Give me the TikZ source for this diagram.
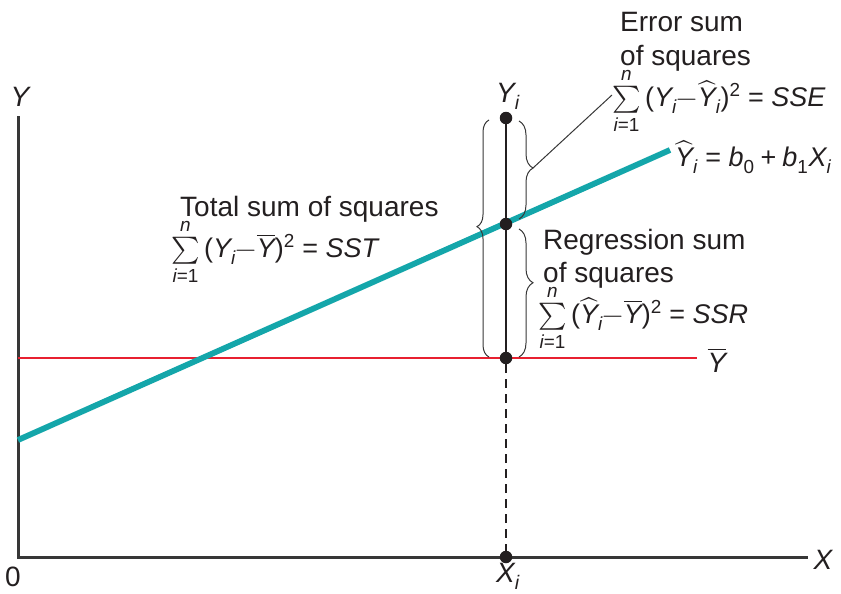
\documentclass[tikz,border=0pt]{standalone}
\usepackage{fontspec}
\usepackage{unicode-math}
\setmainfont{Liberation Sans}
\setmathfont{Latin Modern Math}
\setmathfont[range=it->up]{Liberation Sans Italic}
\setmathfont[range=up/num]{Liberation Sans}
\setmathfont[range={"0028,"0029,"002B,"003D,"2212}]{Liberation Sans}
\usetikzlibrary{decorations.pathreplacing}
\definecolor{tealline}{RGB}{20,166,170}
\definecolor{redline}{RGB}{232,32,48}
\definecolor{axisgray}{RGB}{55,55,55}
\definecolor{txt}{RGB}{35,31,32}
\begin{document}
\begin{tikzpicture}[x=1pt,y=-1pt,
  lbl/.style={font=\fontsize{28}{32}\selectfont, inner sep=0pt, text=txt},
  mlbl/.style={font=\fontsize{27}{32}\selectfont, inner sep=0pt, text=txt},
  axis/.style={line width=3pt, draw=axisgray},
  dot/.style={circle, fill=txt, inner sep=0pt, minimum size=12.5pt},
  vline/.style={line width=2.8pt, draw=txt},
  bracestyle/.style={draw=axisgray, line width=1pt, decorate},
  leader/.style={draw=axisgray, line width=1pt}]
\useasboundingbox (0,0) rectangle (841,594);
% axes
\coordinate (ytop) at (18,116);
\coordinate (O) at (18,557);
\coordinate (xend) at (808,557);
\draw[axis] (ytop) -- (O) -- (xend);
% mean line
\coordinate (m0) at (18,358);
\coordinate (m1) at (697,358);
\draw[redline, line width=1.8pt] (m0) -- (m1);
% regression line
\coordinate (r0) at (18,440);
\coordinate (r1) at (670,150);
\draw[tealline, line width=5.8pt] (r0) -- (r1);
% points
\node[dot] (yi) at (506,118) {};
\node[dot] (yh) at (506,224) {};
\node[dot] (yb) at (506,358) {};
\node[dot] (xi) at (506,557) {};
\draw[vline] (yi) -- (yh) -- (yb);
\draw[vline, dash pattern=on 9pt off 6pt] (yb) -- (xi);
% braces
\coordinate (lb0) at (489,357);
\coordinate (lb1) at (489,120);
\draw[bracestyle, decoration={brace, amplitude=12pt, aspect=0.55}] (lb0) -- (lb1);
\coordinate (ub0) at (519,121);
\coordinate (ub1) at (519,219);
\draw[bracestyle, decoration={brace, amplitude=14pt, aspect=0.48}] (ub0) -- (ub1);
\coordinate (rb0) at (519,229);
\coordinate (rb1) at (519,357);
\draw[bracestyle, decoration={brace, amplitude=14pt, aspect=0.42}] (rb0) -- (rb1);
% leader
\coordinate (lt0) at (533,168);
\coordinate (lt1) at (612,95);
\draw[leader] (lt0) -- (lt1);
% labels
\node[lbl, anchor=west] (err1) at (620,22) {Error sum};
\node[lbl, anchor=west] (err2) at (620,58) {of squares};
\node[mlbl, anchor=west] (err3) at (612,101) {$\sum\limits_{i=1}^{n}\,(Y_i{-}\widehat{Y}_i)^2 = SSE$};
\node[mlbl, anchor=west] (eq) at (675,157) {$\widehat{Y}_i = b_0 + b_1X_i$};
\node[lbl, anchor=west] (tot1) at (180,209) {Total sum of squares};
\node[mlbl, anchor=west] (tot2) at (171,252) {$\sum\limits_{i=1}^{n}\,(Y_i{-}\overline{Y})^2 = SST$};
\node[lbl, anchor=west] (reg1) at (543,242) {Regression sum};
\node[lbl, anchor=west] (reg2) at (543,275) {of squares};
\node[mlbl, anchor=west] (reg3) at (538,318) {$\sum\limits_{i=1}^{n}\,(\widehat{Y}_i{-}\overline{Y})^2 = SSR$};
\node[lbl] (ylab) at (20,97) {$Y$};
\node[lbl] (xlab) at (823,560) {$X$};
\node[lbl] (zero) at (13,577) {0};
\node[lbl] (xilab) at (508,576) {$X_i$};
\node[lbl] (yilab) at (508,96) {$Y_i$};
\node[lbl] (ybarlab) at (717,360) {$\overline{Y}$};
\end{tikzpicture}
\end{document}
